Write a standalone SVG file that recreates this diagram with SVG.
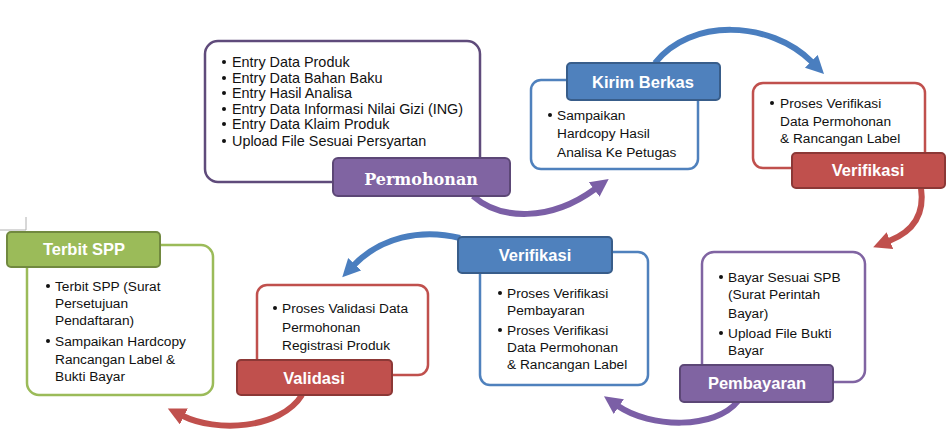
<svg xmlns="http://www.w3.org/2000/svg" width="949" height="444" viewBox="0 0 949 444">
<defs>
<style>
.box{fill:#fff;stroke-width:2.5}
.lbl{stroke-width:2}
.lt{font-family:"Liberation Sans",Arial,sans-serif;font-weight:bold;font-size:16.5px;fill:#fff;text-anchor:middle}
.ls{font-family:"DejaVu Serif","Liberation Serif",serif;font-weight:bold;font-size:16px;fill:#fff;text-anchor:middle}
.ct{font-family:"Liberation Sans",Arial,sans-serif;font-size:13.7px;fill:#111}
.ct.big{font-size:14.4px}
.arr{fill:none;stroke-width:6}
</style>
<marker id="mP" markerUnits="userSpaceOnUse" markerWidth="20" markerHeight="20" refX="1" refY="9" orient="auto"><path d="M0,0 L18,9 L0,18 Z" fill="#7b5fa6"/></marker>
<marker id="mB" markerUnits="userSpaceOnUse" markerWidth="20" markerHeight="20" refX="1" refY="9" orient="auto"><path d="M0,0 L18,9 L0,18 Z" fill="#4a7ebf"/></marker>
<marker id="mR" markerUnits="userSpaceOnUse" markerWidth="20" markerHeight="20" refX="1" refY="9" orient="auto"><path d="M0,0 L18,9 L0,18 Z" fill="#c0504d"/></marker>
</defs>
<rect width="949" height="444" fill="#fff"/>
<path d="M0,230 H26 V217" fill="none" stroke="#b0b0b0" stroke-width="1"/>

<g id="connectors">
<path class="arr" stroke="#7b5fa6" marker-end="url(#mP)" d="M473,196 C500,220 550,222 595,189"/>
<path class="arr" stroke="#4a7ebf" marker-end="url(#mB)" d="M655,63 C690,18 770,20 812,62"/>
<path class="arr" stroke="#c0504d" marker-end="url(#mR)" d="M921,188 C925,215 912,232 889,241"/>
<path class="arr" stroke="#7b5fa6" marker-end="url(#mP)" d="M738,401 C715,430 650,428 618,406"/>
<path class="arr" stroke="#4a7ebf" marker-end="url(#mB)" d="M460,238 C420,228 380,238 354,265"/>
<path class="arr" stroke="#c0504d" marker-end="url(#mR)" d="M302,395 C280,430 215,432 183,416"/>
</g>

<g id="permohonan">
<rect class="box" x="205" y="41" width="275" height="141" rx="13" stroke="#5f4b7b"/>
<g class="ct big">
<text x="232" y="67">Entry Data Produk</text>
<text x="232" y="83">Entry Data Bahan Baku</text>
<text x="232" y="98">Entry Hasil Analisa</text>
<text x="232" y="114">Entry Data Informasi Nilai Gizi (ING)</text>
<text x="232" y="129">Entry Data Klaim Produk</text>
<text x="232" y="146">Upload File Sesuai Persyartan</text>
</g>
<g fill="#111"><circle cx="224" cy="62" r="2"/><circle cx="224" cy="78" r="2"/><circle cx="224" cy="93" r="2"/><circle cx="224" cy="109" r="2"/><circle cx="224" cy="124" r="2"/><circle cx="224" cy="141" r="2"/></g>
<rect class="lbl" x="333" y="158" width="177" height="38" rx="5" fill="#8064a2" stroke="#5c4776"/>
<text class="ls" x="421" y="185">Permohonan</text>
</g>

<g id="kirim-berkas">
<rect class="box" x="531" y="80" width="167" height="89" rx="10" stroke="#4f81bd"/>
<g class="ct">
<text x="557" y="120">Sampaikan</text>
<text x="557" y="138">Hardcopy Hasil</text>
<text x="557" y="157">Analisa Ke Petugas</text>
</g>
<circle cx="550" cy="115" r="2" fill="#111"/>
<rect class="lbl" x="567" y="63" width="153" height="37" rx="4" fill="#4f81bd" stroke="#385d8a"/>
<text class="lt" x="643" y="88">Kirim Berkas</text>
</g>

<g id="verifikasi-1">
<rect class="box" x="753" y="83" width="172" height="85" rx="10" stroke="#c0504d"/>
<g class="ct">
<text x="780" y="108">Proses Verifikasi</text>
<text x="780" y="126">Data Permohonan</text>
<text x="780" y="143">&amp; Rancangan Label</text>
</g>
<circle cx="772" cy="103" r="2" fill="#111"/>
<rect class="lbl" x="792" y="153" width="153" height="35" rx="4" fill="#c0504d" stroke="#8c3836"/>
<text class="lt" x="868" y="176">Verifikasi</text>
</g>

<g id="pembayaran">
<rect class="box" x="702" y="252" width="163" height="130" rx="12" stroke="#8064a2"/>
<g class="ct">
<text x="728" y="282">Bayar Sesuai SPB</text>
<text x="728" y="299">(Surat Perintah</text>
<text x="728" y="318">Bayar)</text>
<text x="728" y="338">Upload File Bukti</text>
<text x="728" y="355">Bayar</text>
</g>
<g fill="#111"><circle cx="721" cy="277" r="2"/><circle cx="721" cy="333" r="2"/></g>
<rect class="lbl" x="680" y="365" width="153" height="37" rx="4" fill="#8064a2" stroke="#5c4776"/>
<text class="lt" x="757" y="389">Pembayaran</text>
</g>

<g id="verifikasi-2">
<rect class="box" x="480" y="252" width="168" height="133" rx="10" stroke="#4f81bd"/>
<g class="ct">
<text x="507" y="298">Proses Verifikasi</text>
<text x="507" y="315">Pembayaran</text>
<text x="507" y="335">Proses Verifikasi</text>
<text x="507" y="352">Data Permohonan</text>
<text x="507" y="369">&amp; Rancangan Label</text>
</g>
<g fill="#111"><circle cx="500" cy="293" r="2"/><circle cx="500" cy="330" r="2"/></g>
<rect class="lbl" x="458" y="237" width="154" height="36" rx="4" fill="#4f81bd" stroke="#385d8a"/>
<text class="lt" x="535" y="261">Verifikasi</text>
</g>

<g id="validasi">
<rect class="box" x="257" y="285" width="171" height="90" rx="10" stroke="#c0504d"/>
<g class="ct">
<text x="282" y="313">Proses Validasi Data</text>
<text x="282" y="332">Permohonan</text>
<text x="282" y="350">Registrasi Produk</text>
</g>
<circle cx="275" cy="308" r="2" fill="#111"/>
<rect class="lbl" x="237" y="360" width="155" height="35" rx="4" fill="#c0504d" stroke="#8c3836"/>
<text class="lt" x="314" y="384">Validasi</text>
</g>

<g id="terbit-spp">
<rect class="box" x="27" y="245" width="186" height="150" rx="12" stroke="#9bbb59"/>
<g class="ct">
<text x="55" y="291">Terbit SPP (Surat</text>
<text x="55" y="308">Persetujuan</text>
<text x="55" y="325">Pendaftaran)</text>
<text x="55" y="346">Sampaikan Hardcopy</text>
<text x="55" y="364">Rancangan Label &amp;</text>
<text x="55" y="381">Bukti Bayar</text>
</g>
<g fill="#111"><circle cx="48" cy="286" r="2"/><circle cx="48" cy="341" r="2"/></g>
<rect class="lbl" x="7" y="232" width="153" height="35" rx="4" fill="#9bbb59" stroke="#71893f"/>
<text class="lt" x="84" y="255">Terbit SPP</text>
</g>
</svg>
